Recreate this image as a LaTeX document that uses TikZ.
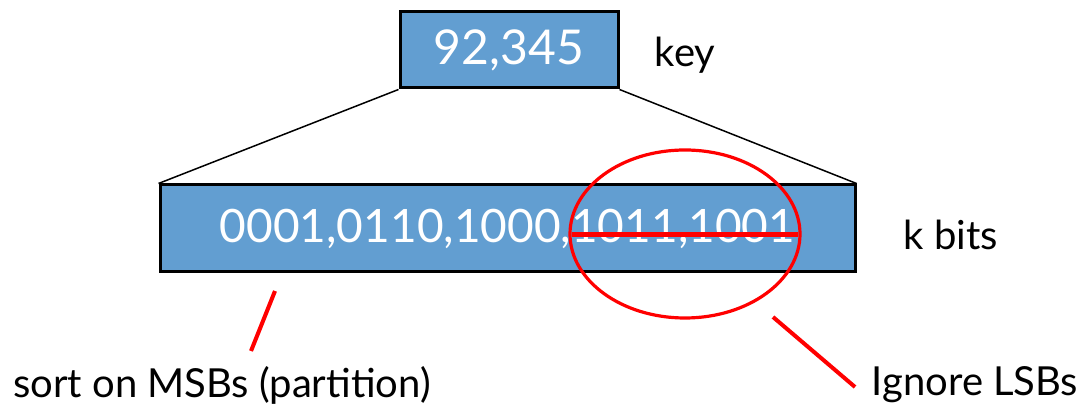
\documentclass[tikz,border=0pt]{standalone}
\usepackage{fontspec}
\setmainfont{Lato}
\usepackage{tikz}
\usetikzlibrary{positioning,shapes.geometric}
\definecolor{boxblue}{RGB}{98,158,209}
\tikzset{bitbox/.style={rectangle, draw=black, line width=1.5pt, fill=boxblue, text=white, inner sep=0pt, font=\fontsize{24}{28}\selectfont},
tag/.style={inner sep=0pt, font=\fontsize{20}{24}\selectfont},
pointer/.style={red, line width=2pt}}

\begin{document}
\begin{tikzpicture}[x=0.5pt,y=-0.5pt]
		\useasboundingbox (0,0) rectangle (1082,410);
		\node[bitbox, minimum width=109pt, minimum height=38pt] (keybox) at (509,50) {92,345};
		\node[bitbox, minimum width=347.5pt, minimum height=43.5pt, font=\fontsize{23}{27}\selectfont] (bitsbox) at (507.5,228.5) {0001,0110,1000,1011,1001};
		\node[tag] (key) at (685,55) {key};
		\node[tag] (kbits) at (951,235) {k bits};
		\node[tag] (msb) at (222,385) {sort on MSBs (partition)};
		\node[tag] (lsb) at (975,385) {Ignore LSBs};
		\draw[line width=0.75pt] (keybox.south west) -- (bitsbox.north west);
		\draw[line width=0.75pt] (keybox.south east) -- (bitsbox.north east);
		% crossed out low bits
		\node[ellipse, draw=red, line width=1.6pt, minimum width=115pt, minimum height=84pt, inner sep=0pt] (ring) at (685,234) {};
		\coordinate (strikeA) at (572,235);
		\coordinate (strikeB) at (798,235);
		\draw[red, line width=2.5pt] (strikeA) -- (strikeB);
		\coordinate (msbtip) at (275,291);
		\coordinate (msbend) at (251,351);
		\draw[pointer] (msbtip) -- (msbend);
		\coordinate (lsbtip) at (773,317);
		\coordinate (lsbend) at (855,387);
		\draw[pointer] (lsbtip) -- (lsbend);
\end{tikzpicture}
\end{document}
